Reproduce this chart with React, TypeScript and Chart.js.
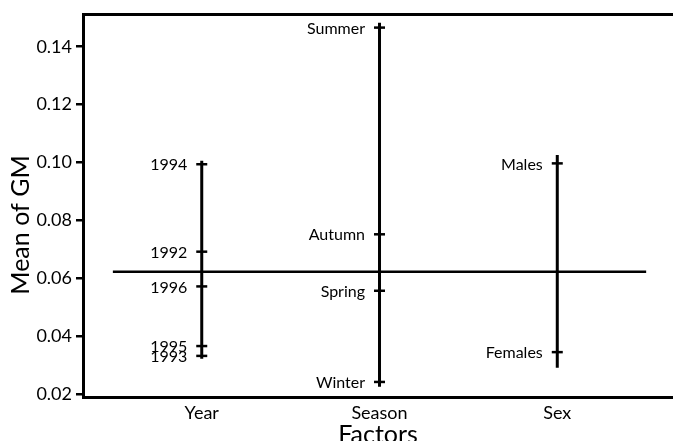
import React, { useEffect, useRef } from 'react';
import { Chart, registerables } from 'chart.js';

Chart.register(...registerables);

// ---- data ----
const categories = ['Year', 'Season', 'Sex'];
const yearLevels = ['1994', '1992', '1996', '1995', '1993'];
const yearMeans = [0.0994, 0.0692, 0.0572, 0.0366, 0.0332];
const seasonLevels = ['Summer', 'Autumn', 'Spring', 'Winter'];
const seasonMeans = [0.1466, 0.0752, 0.0557, 0.0242];
const sexLevels = ['Males', 'Females'];
const sexMeans = [0.0997, 0.0345];
const yearRange = [0.1006, 0.0322];
const seasonRange = [0.1483, 0.0225];
const sexRange = [0.1026, 0.0291];
const grandMean = 0.0623;
const grandMeanSpan = [0.5, 3.5];
const yTicks = [0.02, 0.04, 0.06, 0.08, 0.1, 0.12, 0.14];
const yTitle = 'Mean of GM';
const xTitle = 'Factors';

const FONT = 'Lato';
const X_MIN = 0.332;
const X_MAX = 3.651;

const factorLevels = [yearLevels, seasonLevels, sexLevels];
const factorMeans = [yearMeans, seasonMeans, sexMeans];
const factorRanges = [yearRange, seasonRange, sexRange];

const pointLabelPlugin = {
  id: 'pointLabels',
  afterDatasetsDraw(chart: any) {
    const { ctx } = chart;
    ctx.save();
    ctx.font = `16px ${FONT}`;
    ctx.fillStyle = '#000';
    ctx.textAlign = 'right';
    ctx.textBaseline = 'middle';
    chart.data.datasets.forEach((ds: any, i: number) => {
      if (!ds.levelLabels) return;
      const meta = chart.getDatasetMeta(i);
      meta.data.forEach((el: any, j: number) => {
        ctx.fillText(ds.levelLabels[j], el.x - 14.5, el.y + 1);
      });
    });
    ctx.restore();
  },
};

const yTitlePlugin = {
  id: 'yTitleDraw',
  afterDraw(chart: any) {
    const { ctx } = chart;
    ctx.save();
    ctx.translate(21, 225);
    ctx.rotate(-Math.PI / 2);
    ctx.font = `25px ${FONT}`;
    ctx.fillStyle = '#000';
    ctx.textAlign = 'center';
    ctx.textBaseline = 'middle';
    ctx.fillText(yTitle, 0, 0);
    ctx.restore();
  },
};

const fitX = (h: number) => (s: any) => {
  s.height = h;
  s.paddingLeft = 0;
  s.paddingRight = 0;
};

export default function App() {
  const ref = useRef<HTMLCanvasElement | null>(null);

  useEffect(() => {
    if (!ref.current) return;
    const datasets: any[] = [];
    datasets.push({
      type: 'line',
      data: grandMeanSpan.map((x) => ({ x, y: grandMean })),
      borderColor: '#000',
      borderWidth: 2.5,
      pointRadius: 0,
      fill: false,
    });
    factorRanges.forEach((r, i) => {
      datasets.push({
        type: 'line',
        data: r.map((y) => ({ x: i + 1, y })),
        borderColor: '#000',
        borderWidth: 3,
        pointRadius: 0,
        fill: false,
      });
    });
    factorMeans.forEach((means, i) => {
      datasets.push({
        type: 'scatter',
        data: means.map((y) => ({ x: i + 1, y })),
        levelLabels: factorLevels[i],
        showLine: false,
        pointStyle: 'line',
        pointRadius: 5.5,
        pointBorderWidth: 2.5,
        borderColor: '#000',
        backgroundColor: '#000',
      });
    });

    const chart = new Chart(ref.current, {
      type: 'scatter',
      data: { datasets },
      options: {
        animation: false,
        responsive: false,
        events: [],
        layout: { padding: 0, autoPadding: false },
        plugins: { legend: { display: false }, tooltip: { enabled: false } },
        scales: {
          x: {
            type: 'linear',
            position: 'bottom',
            min: X_MIN,
            max: X_MAX,
            afterBuildTicks: (s: any) => {
              s.ticks = categories.map((_, i) => ({ value: i + 1 }));
            },
            afterFit: fitX(44),
            grid: { display: false, drawTicks: false },
            border: { display: true, color: '#000', width: 3 },
            ticks: {
              autoSkip: false,
              maxRotation: 0,
              padding: 5,
              color: '#000',
              font: { family: FONT, size: 18 },
              callback: (v: any) => categories[Math.round(Number(v)) - 1] ?? '',
            },
            title: {
              display: true,
              text: xTitle,
              color: '#000',
              font: { family: FONT, size: 25, lineHeight: 0.5 },
              padding: { top: 0, bottom: 0 },
            },
          },
          xTop: {
            type: 'linear',
            position: 'top',
            min: X_MIN,
            max: X_MAX,
            afterFit: fitX(14),
            grid: { display: false, drawTicks: false },
            ticks: { display: false },
            border: { display: true, color: '#000', width: 3 },
          },
          y: {
            type: 'linear',
            min: 0.019,
            max: 0.1513,
            afterBuildTicks: (s: any) => {
              s.ticks = yTicks.map((v) => ({ value: v }));
            },
            afterFit: (s: any) => {
              s.width = 83;
              s.paddingTop = 0;
              s.paddingBottom = 0;
            },
            grid: {
              display: true,
              drawOnChartArea: false,
              drawTicks: true,
              tickLength: 7,
              color: '#000',
              lineWidth: 2.5,
            },
            border: { display: true, color: '#000', width: 3 },
            ticks: {
              padding: 4,
              color: '#000',
              font: { family: FONT, size: 18 },
              callback: (v: any) => Number(v).toFixed(2),
            },
          },
        },
      } as any,
      plugins: [pointLabelPlugin, yTitlePlugin],
    });
    return () => chart.destroy();
  }, []);

  return (
    <div style={{ position: 'fixed', left: 0, top: 0, width: 673, height: 441, background: '#fff' }}>
      <canvas ref={ref} width={673} height={441} style={{ display: 'block' }} />
    </div>
  );
}
